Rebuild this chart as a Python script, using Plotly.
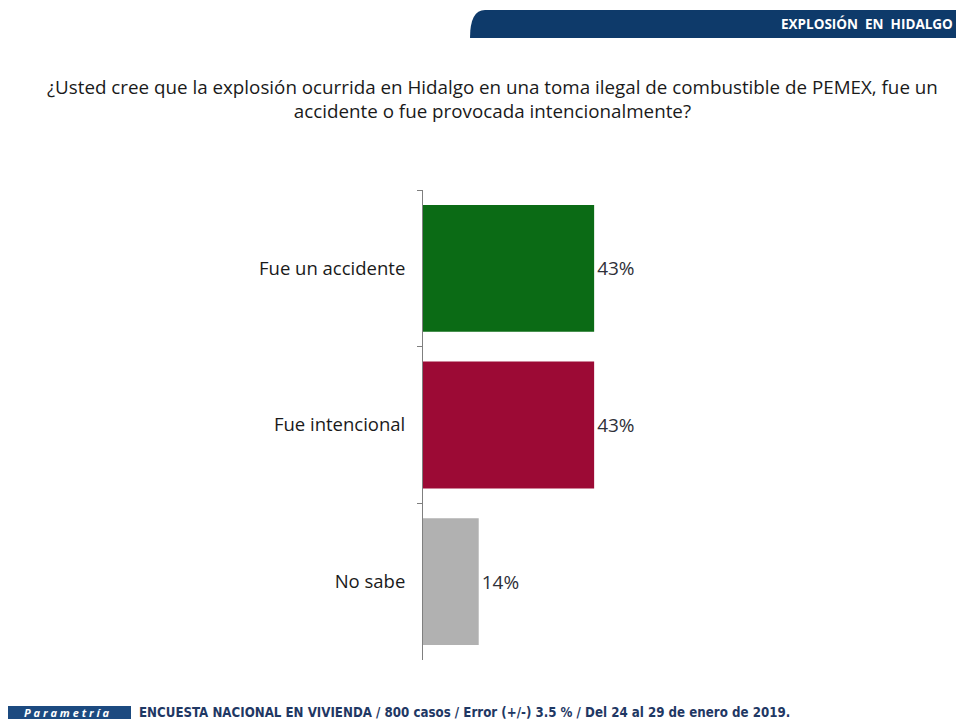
import plotly.graph_objects as go

categories = ["Fue un accidente", "Fue intencional", "No sabe"]
values = [43, 43, 14]
value_labels = ["43%", "43%", "14%"]
bar_colors = ["#0b6b15", "#9c0a35", "#b1b1b1"]

title_text = ("¿Usted cree que la explosión ocurrida en Hidalgo en una toma ilegal de combustible de PEMEX, fue un<br>"
              "accidente o fue provocada intencionalmente?")
header_text = "EXPLOSIÓN  EN  HIDALGO"
footer_text = "ENCUESTA NACIONAL EN VIVIENDA / 800 casos / Error (+/-) 3.5 % / Del 24 al 29 de enero de 2019."
brand_text = "P a r a m e t r í a"

# page has an 8px body margin: figure is drawn 8px in from the window edge
OFF = 8
W, H = 964 - 2 * OFF, 727 - 2 * OFF
L = 423 - OFF
T = 190 - OFF
R = W - (821 - OFF)
B = H - (660 - OFF)
PW, PH = W - L - R, H - T - B

def px(x):
    return (x - OFF - L) / PW

def py(y):
    return (H - B - (y - OFF)) / PH

FONT = "'Open Sans', Lato, sans-serif"

fig = go.Figure(go.Bar(
    y=categories, x=values, orientation="h",
    marker=dict(color=bar_colors, line=dict(width=0)),
    text=value_labels, textposition="outside",
    textfont=dict(size=19, color="#2f3038", family=FONT),
    cliponaxis=False, width=0.81,
))

# header band path with rounded left edge
x0, x1, y0, y1 = px(470), px(964), py(38), py(10)
xr = px(485)
hpath = (f"M {xr} {y1} L {x1} {y1} L {x1} {y0} L {x0} {y0} "
         f"Q {x0} {y1} {xr} {y1} Z")

shapes = [
    dict(type="path", xref="paper", yref="paper", path=hpath,
         fillcolor="#0e3a6a", line=dict(width=0), layer="below"),
    dict(type="rect", xref="paper", yref="paper",
         x0=px(3), x1=px(131), y0=py(719), y1=py(706),
         fillcolor="#1c4a80", line=dict(width=0)),
]

annotations = [
    dict(text=title_text, xref="paper", yref="paper", x=px(492), y=py(99),
         xanchor="center", yanchor="middle", showarrow=False, align="center",
         font=dict(size=18.8, color="#1a1a1a", family=FONT)),
    dict(text=f"<b>{header_text}</b>", xref="paper", yref="paper", x=px(955), y=py(24),
         xanchor="right", yanchor="middle", showarrow=False,
         font=dict(size=13.5, color="white", family=FONT)),
    dict(text=f"<i><b>{brand_text}</b></i>", xref="paper", yref="paper", x=px(67), y=py(712.5),
         xanchor="center", yanchor="middle", showarrow=False,
         font=dict(size=11, color="white", family=FONT)),
    dict(text=f"<b>{footer_text}</b>", xref="paper", yref="paper", x=px(137), y=py(712.5),
         xanchor="left", yanchor="middle", showarrow=False,
         font=dict(size=13.2, color="#1f3864", family="'Liberation Sans Narrow', 'DejaVu Sans Condensed', sans-serif")),
]

fig.update_layout(
    width=W, height=H,
    margin=dict(l=L, r=R, t=T, b=B),
    paper_bgcolor="white", plot_bgcolor="rgba(0,0,0,0)",
    showlegend=False,
    font=dict(family=FONT, color="#1a1a1a"),
    xaxis=dict(range=[0, 100], visible=False, fixedrange=True),
    yaxis=dict(autorange="reversed", showline=True, linecolor="#7f7f7f", linewidth=1,
               ticks="outside", tickson="boundaries", ticklen=5, tickcolor="#7f7f7f",
               tickfont=dict(size=18.5, color="#1a1a1a", family=FONT),
               ticklabelstandoff=13, showgrid=False, zeroline=False),
    shapes=shapes, annotations=annotations,
)

fig.write_html("out.html")
